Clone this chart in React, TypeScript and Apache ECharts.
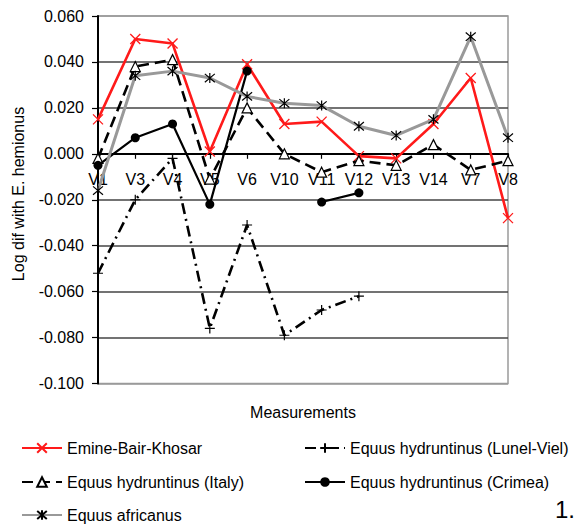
import React, { useEffect, useRef } from "react";
import * as echarts from "echarts";

const categories = ["V1", "V3", "V4", "V5", "V6", "V10", "V11", "V12", "V13", "V14", "V7", "V8"];
const emine = [0.015, 0.05, 0.048, 0.001, 0.039, 0.013, 0.014, -0.001, -0.002, 0.013, 0.033, -0.028];
const lunel = [-0.052, -0.02, -0.002, -0.076, -0.031, -0.079, -0.068, -0.062, null, null, null, null];
const italy = [-0.002, 0.038, 0.041, -0.011, 0.02, 0.0, -0.008, -0.003, -0.005, 0.004, -0.007, -0.003];
const crimea = [-0.005, 0.007, 0.013, -0.022, 0.036, null, -0.021, -0.017, null, null, null, null];
const africanus = [-0.016, 0.034, 0.036, 0.033, 0.025, 0.022, 0.021, 0.012, 0.008, 0.015, 0.051, 0.007];

const yMin = -0.1;
const yMax = 0.06;
const yStep = 0.02;

const FONT = "Liberation Sans, Arial, sans-serif";
const X_SYM = "path://M0 0L10 10M10 0L0 10";
const AST_SYM = "path://M0 0L10 10M10 0L0 10M5 -1L5 11";
const PLUS_SYM = "path://M5 0L5 10M0 5L10 5";

const W = 577;
const H = 527;
const GRID_TOP = 16;
const GRID_BOTTOM = 143.5;
const PLOT_H = H - GRID_TOP - GRID_BOTTOM;
// distance of the zero line above the plot bottom, from the axis scale
const ZERO_OFFSET = ((0 - yMin) / (yMax - yMin)) * PLOT_H;

const legendItems: { name: string; left: number; top: number }[] = [
  { name: "Emine-Bair-Khosar", left: 21, top: 440 },
  { name: "Equus hydruntinus (Italy)", left: 21, top: 474 },
  { name: "Equus africanus", left: 21, top: 507 },
  { name: "Equus hydruntinus (Lunel-Viel)", left: 304, top: 440 },
  { name: "Equus hydruntinus (Crimea)", left: 304, top: 474 },
];

export default function App() {
  const ref = useRef<HTMLDivElement>(null);
  useEffect(() => {
    if (!ref.current) return;
    const chart = echarts.init(ref.current, undefined, { renderer: "svg" });
    const gridColors = ["#9a9a9a", "#444", "#444", "#444", "#444", "#444", "#444", "#444", "#9a9a9a"];
    chart.setOption({
      animation: false,
      backgroundColor: "#fff",
      textStyle: { fontFamily: FONT },
      grid: {
        left: 98,
        right: 69,
        top: GRID_TOP,
        bottom: GRID_BOTTOM,
        show: true,
        borderColor: "#9a9a9a",
        borderWidth: 1.5,
        backgroundColor: "transparent",
      },
      xAxis: {
        type: "category",
        data: categories,
        boundaryGap: false,
        position: "bottom",
        offset: -ZERO_OFFSET,
        axisLine: { onZero: false, lineStyle: { color: "#000", width: 2 } },
        axisTick: { show: true, length: 5, inside: false, lineStyle: { color: "#000", width: 1.2 } },
        axisLabel: { interval: 0, color: "#000", fontSize: 16, fontFamily: FONT, margin: 18 },
        splitLine: { show: false },
        z: 2,
      },
      yAxis: {
        type: "value",
        min: yMin,
        max: yMax,
        interval: yStep,
        axisLine: { show: true, onZero: false, lineStyle: { color: "#000", width: 2 } },
        axisTick: { show: true, length: 6, lineStyle: { color: "#000", width: 1.2 } },
        axisLabel: {
          color: "#000",
          fontSize: 16,
          fontFamily: FONT,
          margin: 14,
          formatter: (v: number) => v.toFixed(3),
        },
        splitLine: { show: true, lineStyle: { color: gridColors, width: 1.5 } },
      },
      legend: legendItems.map((it) => ({
        left: it.left,
        top: it.top,
        padding: 0,
        orient: "vertical",
        itemWidth: 40,
        itemHeight: 12,
        itemGap: 0,
        textStyle: { fontSize: 16, color: "#000", fontFamily: FONT },
        data: [it.name],
      })),
      graphic: [
        {
          type: "text",
          x: 18,
          y: 194,
          rotation: Math.PI / 2,
          style: {
            text: "Log dif with E. hemionus",
            font: `16px ${FONT}`,
            fill: "#000",
            align: "center",
            verticalAlign: "middle",
          },
        },
        {
          type: "text",
          x: 303,
          y: 412,
          style: {
            text: "Measurements",
            font: `16px ${FONT}`,
            fill: "#000",
            align: "center",
            verticalAlign: "middle",
          },
        },
        {
          type: "text",
          x: 555,
          y: 509,
          style: {
            text: "1.",
            font: `24px ${FONT}`,
            fill: "#000",
            align: "left",
            verticalAlign: "middle",
          },
        },
      ],
      series: [
        {
          name: "Emine-Bair-Khosar",
          type: "line",
          data: emine,
          showAllSymbol: true,
          symbol: X_SYM,
          symbolSize: 10,
          lineStyle: { color: "#ff1a1a", width: 2.6 },
          itemStyle: { color: "#ff1a1a", borderColor: "#ff1a1a", borderWidth: 1.3 },
          z: 3,
        },
        {
          name: "Equus hydruntinus (Lunel-Viel)",
          type: "line",
          data: lunel,
          showAllSymbol: true,
          symbol: PLUS_SYM,
          symbolSize: 10,
          lineStyle: { color: "#000", width: 2.6, type: [11, 5, 2, 5] },
          itemStyle: { color: "#000", borderColor: "#000", borderWidth: 1.2 },
          z: 4,
        },
        {
          name: "Equus hydruntinus (Italy)",
          type: "line",
          data: italy,
          showAllSymbol: true,
          symbol: "triangle",
          symbolSize: 10,
          lineStyle: { color: "#000", width: 2.6, type: [11, 6] },
          itemStyle: { color: "#fff", borderColor: "#000", borderWidth: 1.2 },
          z: 5,
        },
        {
          name: "Equus hydruntinus (Crimea)",
          type: "line",
          data: crimea,
          showAllSymbol: true,
          connectNulls: false,
          symbol: "circle",
          symbolSize: 9,
          lineStyle: { color: "#000", width: 2.2 },
          itemStyle: { color: "#000", borderColor: "#000", borderWidth: 0 },
          z: 6,
        },
        {
          name: "Equus africanus",
          type: "line",
          data: africanus,
          showAllSymbol: true,
          symbol: AST_SYM,
          symbolSize: 10,
          lineStyle: { color: "#999", width: 3 },
          itemStyle: { color: "#000", borderColor: "#000", borderWidth: 1.2 },
          z: 7,
        },
      ],
    });
    return () => chart.dispose();
  }, []);
  return (
    <div
      ref={ref}
      style={{ position: "fixed", left: 0, top: 0, width: W, height: H, background: "#fff" }}
    />
  );
}
